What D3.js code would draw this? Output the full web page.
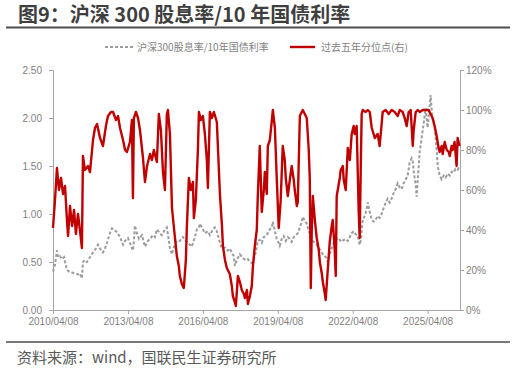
<!DOCTYPE html>
<html>
<head>
<meta charset="utf-8">
<script src="https://cdn.jsdelivr.net/npm/d3@7"></script>
<style>
  body { margin: 0; background: #fff; }
  svg { display: block; font-family: "Noto Sans CJK SC", "Noto Sans", sans-serif; }
</style>
</head>
<body>
<div id="chart"></div>
<script>
// 沪深300股息率/10年国债利率 (left axis)
const ratioDates = ["2010-04-08","2010-05-07","2010-06-05","2010-06-20","2010-07-19","2010-08-17","2010-09-16","2010-10-01","2010-10-29","2010-11-28",
  "2011-01-12","2011-02-25","2011-04-08","2011-05-07","2011-06-05","2011-06-20","2011-07-19","2011-08-17","2011-10-01","2011-11-14","2011-12-27",
  "2012-01-26","2012-02-25","2012-04-08","2012-05-07","2012-06-05","2012-07-19","2012-08-17","2012-09-16","2012-10-29","2012-12-13",
  "2013-01-26","2013-02-25","2013-04-08","2013-05-07","2013-06-20","2013-07-04","2013-07-19","2013-08-17","2013-09-16","2013-10-29","2013-12-13",
  "2014-01-26","2014-02-25","2014-04-08","2014-05-07","2014-06-05","2014-07-19","2014-08-17","2014-10-01","2014-10-29","2014-11-28","2014-12-13",
  "2015-01-12","2015-02-10","2015-03-24","2015-05-07","2015-06-20","2015-08-03","2015-09-02","2015-10-01","2015-10-29","2015-12-13",
  "2016-01-12","2016-02-10","2016-02-25","2016-04-08","2016-05-07","2016-06-20","2016-07-19","2016-09-02","2016-10-01","2016-10-29","2016-12-13",
  "2017-01-12","2017-02-25","2017-04-08","2017-05-07","2017-06-05","2017-07-04","2017-07-19","2017-08-17","2017-10-01","2017-11-14","2017-12-27",
  "2018-01-26","2018-02-25","2018-03-24","2018-04-22","2018-05-21","2018-06-20","2018-07-19","2018-08-17","2018-09-16","2018-10-15","2018-11-14","2018-12-13",
  "2019-01-12","2019-01-26","2019-02-25","2019-03-24","2019-04-22","2019-05-07","2019-06-05","2019-07-04","2019-08-03","2019-09-02","2019-10-01","2019-10-29","2019-11-28","2019-12-27",
  "2020-01-26","2020-02-25","2020-03-24","2020-04-08","2020-05-07","2020-06-05","2020-07-04","2020-08-03","2020-09-02","2020-10-01","2020-10-29","2020-11-28","2020-12-27",
  "2021-01-26","2021-02-25","2021-03-24","2021-04-08","2021-05-07","2021-06-05","2021-07-04","2021-08-03","2021-09-02","2021-10-01","2021-10-29","2021-11-28","2021-12-27",
  "2022-01-26","2022-02-25","2022-03-24","2022-04-22","2022-05-21","2022-06-20","2022-07-19","2022-08-03","2022-09-02","2022-10-01","2022-10-29","2022-11-14","2022-12-13",
  "2023-01-12","2023-02-10","2023-03-09","2023-04-08","2023-05-07","2023-06-05","2023-07-04","2023-08-03","2023-09-02","2023-10-01","2023-10-29","2023-11-28","2023-12-27",
  "2024-01-26","2024-02-25","2024-03-24","2024-04-22","2024-05-21","2024-06-20","2024-07-19","2024-08-17","2024-09-02","2024-09-16","2024-10-15","2024-10-29","2024-11-14","2024-12-13",
  "2025-01-12","2025-02-10","2025-03-09","2025-04-08","2025-05-07","2025-05-21","2025-06-05","2025-06-20","2025-07-19","2025-08-17","2025-09-02","2025-10-01","2025-10-29","2025-11-28","2025-12-27",
  "2026-01-26","2026-02-25","2026-03-24","2026-04-22","2026-05-21","2026-06-20","2026-07-19"];
const ratioValues = [0.40,0.47,0.62,0.55,0.56,0.53,0.55,0.50,0.42,0.40,
  0.39,0.38,0.37,0.38,0.33,0.50,0.52,0.50,0.55,0.60,0.64,
  0.68,0.64,0.60,0.64,0.70,0.80,0.85,0.84,0.81,0.76,
  0.68,0.72,0.75,0.70,0.62,0.72,0.88,0.80,0.74,0.78,0.66,
  0.72,0.74,0.78,0.76,0.84,0.80,0.78,0.84,0.86,0.72,0.64,
  0.58,0.66,0.72,0.72,0.76,0.72,0.70,0.68,0.66,0.76,
  0.84,0.86,0.90,0.84,0.80,0.82,0.78,0.84,0.86,0.82,0.70,
  0.64,0.65,0.62,0.64,0.60,0.56,0.46,0.52,0.58,0.54,0.52,
  0.53,0.50,0.49,0.52,0.60,0.72,0.73,0.70,0.76,0.77,0.80,0.84,
  0.86,0.92,0.82,0.74,0.70,0.67,0.74,0.77,0.72,0.76,0.74,0.71,0.76,0.78,
  0.80,0.86,0.92,0.97,0.93,0.90,0.82,0.77,0.72,0.70,0.68,0.64,0.62,
  0.58,0.56,0.54,0.50,0.58,0.64,0.70,0.73,0.75,0.73,0.71,0.73,0.74,
  0.72,0.76,0.80,0.82,0.79,0.77,0.68,0.72,0.94,0.98,1.05,1.12,1.02,
  0.94,0.92,0.94,0.98,0.96,1.00,1.06,1.12,1.16,1.12,1.16,1.22,1.26,
  1.32,1.28,1.26,1.32,1.36,1.40,1.54,1.58,1.55,1.44,1.30,1.18,1.36,1.65,
  1.80,1.95,2.10,1.90,2.12,2.24,2.10,1.98,1.90,1.68,1.50,1.40,1.36,1.40,1.38,
  1.42,1.40,1.44,1.43,1.47,1.46,1.50];

// 过去五年分位点 (right axis)
const pctDates = ["2010-04-08","2010-05-07","2010-06-05","2010-07-04","2010-08-03","2010-09-02","2010-10-01","2010-10-29","2010-11-14","2010-12-13",
  "2011-01-12","2011-02-10","2011-03-09","2011-04-08","2011-05-07","2011-06-05","2011-06-20","2011-07-19","2011-09-02","2011-10-01","2011-11-14","2011-12-13",
  "2012-01-12","2012-02-25","2012-04-08","2012-05-21","2012-06-20","2012-08-03","2012-09-02","2012-10-15","2012-11-14","2012-12-13",
  "2013-01-26","2013-02-25","2013-03-24","2013-05-07","2013-06-05","2013-06-20","2013-07-04","2013-08-03","2013-09-02","2013-10-01","2013-11-14","2013-12-13",
  "2014-01-12","2014-02-25","2014-03-24","2014-04-22","2014-06-05","2014-07-04","2014-08-03","2014-09-02","2014-10-01","2014-10-29","2014-11-14","2014-12-13",
  "2015-01-12","2015-02-10","2015-03-09","2015-03-24","2015-04-22","2015-05-07","2015-06-05","2015-07-04","2015-08-03","2015-08-17","2015-09-16","2015-10-15","2015-11-14","2015-11-28","2015-12-27",
  "2016-01-26","2016-02-10","2016-03-09","2016-04-08","2016-05-07","2016-06-05","2016-06-20","2016-07-19","2016-08-17","2016-09-16","2016-10-29","2016-11-28","2016-12-13",
  "2017-01-12","2017-01-26","2017-02-25","2017-03-24","2017-04-22","2017-05-07","2017-06-05","2017-06-20","2017-07-19","2017-08-03","2017-09-02","2017-10-01","2017-10-29","2017-11-28","2017-12-13",
  "2018-01-12","2018-01-26","2018-02-25","2018-03-24","2018-04-08","2018-05-07","2018-06-05","2018-06-20","2018-07-19","2018-08-17","2018-09-16","2018-10-01","2018-10-29","2018-11-14","2018-12-13",
  "2019-01-12","2019-01-26","2019-02-25","2019-03-24","2019-04-22","2019-05-21","2019-06-20","2019-07-19","2019-08-03","2019-09-02","2019-10-01","2019-10-29","2019-11-28","2019-12-13",
  "2020-01-12","2020-01-26","2020-02-25","2020-04-08","2020-05-07","2020-06-05","2020-07-04","2020-07-19","2020-08-03","2020-08-17","2020-09-02","2020-10-01","2020-10-29","2020-11-28","2020-12-13",
  "2021-01-12","2021-01-26","2021-02-25","2021-03-09","2021-04-08","2021-05-07","2021-06-05","2021-06-20","2021-07-19","2021-08-03","2021-08-17","2021-10-01","2021-10-15","2021-11-14","2021-11-28","2021-12-27",
  "2022-01-26","2022-02-25","2022-03-24","2022-04-22","2022-05-07","2022-06-05","2022-06-20","2022-07-04","2022-07-19","2022-08-03","2022-08-17","2022-09-02","2022-10-15","2022-11-14","2022-12-13",
  "2023-01-12","2023-02-25","2023-04-08","2023-05-07","2023-06-05","2023-06-20","2023-08-03","2023-09-16","2023-10-29","2023-12-13",
  "2024-01-26","2024-02-25","2024-04-08","2024-05-07","2024-06-05","2024-07-04","2024-08-03","2024-09-02","2024-09-16","2024-10-15","2024-11-14","2024-12-13",
  "2025-01-26","2025-03-09","2025-04-22","2025-05-21","2025-06-20","2025-07-19","2025-08-17","2025-09-16","2025-10-01","2025-10-29","2025-11-14","2025-12-13",
  "2026-01-12","2026-02-10","2026-02-25","2026-03-24","2026-04-08","2026-05-07","2026-06-05","2026-06-20","2026-07-19"];
const pctValues = [0.41,0.55,0.71,0.60,0.66,0.58,0.62,0.45,0.37,0.52,
  0.42,0.50,0.38,0.48,0.40,0.31,0.77,0.70,0.72,0.69,0.85,0.91,
  0.93,0.86,0.82,0.92,0.97,0.99,0.99,0.95,0.97,0.91,
  0.85,0.80,0.79,0.84,0.95,0.56,0.96,0.99,0.96,0.90,0.76,0.64,
  0.72,0.78,0.75,0.80,0.74,0.98,0.90,0.69,0.60,0.98,1.00,0.88,
  0.51,0.41,0.32,0.27,0.22,0.17,0.13,0.11,0.25,0.41,0.66,0.60,0.64,0.46,0.55,
  0.80,0.99,0.95,0.97,0.88,0.75,0.61,0.99,0.96,0.99,0.94,0.70,0.58,
  0.42,0.32,0.25,0.21,0.19,0.18,0.12,0.07,0.04,0.02,0.17,0.14,0.10,0.08,0.06,
  0.10,0.03,0.07,0.12,0.21,0.32,0.40,0.57,0.82,0.49,0.60,0.69,0.58,0.82,0.85,
  0.95,1.00,0.91,0.66,0.41,0.55,0.82,0.75,0.66,0.57,0.65,0.72,0.65,0.60,
  0.52,0.54,0.97,1.00,0.98,0.96,0.80,0.66,0.11,0.40,0.57,0.45,0.36,0.30,0.24,
  0.18,0.14,0.08,0.05,0.20,0.34,0.42,0.45,0.30,0.17,0.57,0.66,0.70,0.72,0.65,0.60,
  0.81,0.75,0.88,0.92,0.88,0.92,0.70,0.50,0.36,0.70,0.98,1.00,0.99,1.00,0.99,
  0.91,0.86,0.88,0.82,0.93,0.99,1.00,0.98,1.00,0.99,
  0.97,1.00,0.99,0.96,0.92,0.99,1.00,0.82,0.90,0.99,1.00,0.99,
  1.00,1.00,1.00,0.98,0.96,0.92,0.87,0.81,0.79,0.82,0.78,0.84,
  0.80,0.79,0.77,0.82,0.80,0.84,0.72,0.86,0.82];

const xTicks = ["2010-04-08","2013-04-08","2016-04-08","2019-04-08","2022-04-08","2025-04-08"];
const leftTicks = [0, 0.5, 1, 1.5, 2, 2.5];
const rightTicks = [0, 0.2, 0.4, 0.6, 0.8, 1.0, 1.2];

const W = 516, H = 369;
const plot = { left: 53, right: 460, top: 70, bottom: 310 };
const axisGray = "#A6A6A6", labelGray = "#7F7F7F";

const parse = d3.timeParse("%Y-%m-%d");

const svg = d3.select("#chart").append("svg")
    .attr("width", W)
    .attr("height", H);

// title + rules
svg.append("text")
    .attr("x", 18).attr("y", 22)
    .attr("font-size", 20).attr("font-weight", "bold")
    .attr("fill", "#3F3F3F")
    .text("图9：沪深 300 股息率/10 年国债利率");
svg.append("line")
    .attr("x1", 6).attr("x2", 510).attr("y1", 27.5).attr("y2", 27.5)
    .attr("stroke", "#4D4D4D").attr("stroke-width", 2);
svg.append("line")
    .attr("x1", 6).attr("x2", 510).attr("y1", 342).attr("y2", 342)
    .attr("stroke", "#4D4D4D").attr("stroke-width", 1.5);
svg.append("text")
    .attr("x", 17).attr("y", 363)
    .attr("font-size", 15).attr("fill", "#595959")
    .text("资料来源：wind，国联民生证券研究所");

// scales
var x = d3.scaleTime()
    .domain([parse("2010-04-08"), parse("2026-07-25")])
    .range([plot.left, plot.right]);
var yL = d3.scaleLinear().domain([0, 2.5]).range([plot.bottom, plot.top]);
var yR = d3.scaleLinear().domain([0, 1.2]).range([plot.bottom, plot.top]);

function styleAxis(g) {
    g.selectAll("path, line").attr("stroke", axisGray);
    g.selectAll("text").attr("fill", labelGray).attr("font-size", 10);
}

svg.append("g")
    .attr("transform", `translate(0, ${plot.bottom})`)
    .call(d3.axisBottom(x).tickValues(xTicks.map(parse))
        .tickFormat(d3.timeFormat("%Y/%m/%d")).tickSize(4).tickSizeOuter(0).tickPadding(4))
    .call(styleAxis);
svg.append("g")
    .attr("transform", `translate(${plot.left}, 0)`)
    .call(d3.axisLeft(yL).tickValues(leftTicks).tickFormat(d3.format(".2f"))
        .tickSize(4).tickSizeOuter(0).tickPadding(7))
    .call(styleAxis);
svg.append("g")
    .attr("transform", `translate(${plot.right}, 0)`)
    .call(d3.axisRight(yR).tickValues(rightTicks).tickFormat(d3.format(".0%"))
        .tickSize(4).tickSizeOuter(0).tickPadding(2))
    .call(styleAxis);

// series
const ratioData = ratioDates.map((d, i) => ({ date: parse(d), value: ratioValues[i] }));
const pctData = pctDates.map((d, i) => ({ date: parse(d), value: pctValues[i] }));

svg.append("path")
    .datum(ratioData)
    .attr("fill", "none")
    .attr("stroke", "#9C9C9C")
    .attr("stroke-width", 2)
    .attr("stroke-dasharray", "3,2")
    .attr("d", d3.line().x(d => x(d.date)).y(d => yL(d.value)));

svg.append("path")
    .datum(pctData)
    .attr("fill", "none")
    .attr("stroke", "#C00000")
    .attr("stroke-width", 2.4)
    .attr("stroke-linejoin", "round")
    .attr("d", d3.line().x(d => x(d.date)).y(d => yR(d.value)));

// legend
var legend = svg.append("g").attr("font-size", 10).attr("fill", labelGray);
legend.append("line")
    .attr("x1", 105).attr("x2", 133).attr("y1", 47).attr("y2", 47)
    .attr("stroke", "#9C9C9C").attr("stroke-width", 1.8).attr("stroke-dasharray", "3,2");
legend.append("text").attr("x", 137).attr("y", 50.5).text("沪深300股息率/10年国债利率");
legend.append("line")
    .attr("x1", 290).attr("x2", 315).attr("y1", 47).attr("y2", 47)
    .attr("stroke", "#C00000").attr("stroke-width", 2.4);
legend.append("text").attr("x", 321).attr("y", 50.5).text("过去五年分位点(右)");
</script>
</body>
</html>
